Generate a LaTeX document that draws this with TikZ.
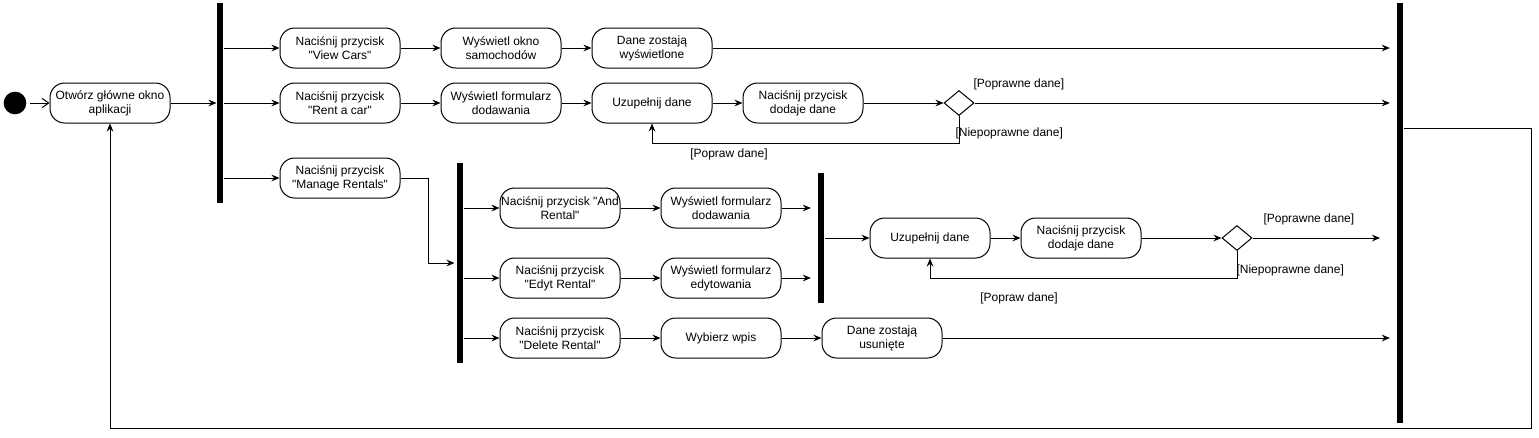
\documentclass[tikz,border=0pt]{standalone}
\usepackage{fontspec}
\setmainfont{Liberation Sans}[Ligatures=TeXOff]
\usetikzlibrary{arrows.meta,positioning,shapes.geometric}

\begin{document}
\begin{tikzpicture}[x=0.75pt,y=-0.75pt,line width=0.75pt,
 font=\fontsize{9}{10.5}\selectfont,
 act/.style={rounded corners=11pt,draw,minimum width=90pt,minimum height=30pt,align=center,inner sep=0pt},
 bar/.style={fill=black,inner sep=0pt,minimum width=4.5pt},
 decision/.style={diamond,draw,inner sep=0pt,minimum width=22.5pt,minimum height=18.75pt},
 flow/.style={-{Stealth[length=6pt,width=5pt,inset=2pt]}},
 gap/.style={flow,shorten >=5pt},
 guard/.style={anchor=west,inner sep=0pt}]
\useasboundingbox (0,0) rectangle (1539,437);
\node[circle,fill=black,minimum size=17pt,inner sep=0pt] (start) at (15,103) {};
\node[act] (open) at (110,103) {Otwórz główne okno\\aplikacji};
\node[bar,minimum height=150pt] (fork) at (220,103) {};
\node[act] (view) at (340,48) {Naciśnij przycisk\\"View Cars"};
\node[act,right=30pt of view] (cars) {Wyświetl okno\\samochodów};
\node[act,right=22.5pt of cars] (shown) {Dane zostają\\wyświetlone};
\node[act] (rent) at (340,103) {Naciśnij przycisk\\"Rent a car"};
\node[act,right=30pt of rent] (addform) {Wyświetl formularz\\dodawania};
\node[act,right=22.5pt of addform] (fill) {Uzupełnij dane};
\node[act,right=22.5pt of fill] (submit) {Naciśnij przycisk\\dodaje dane};
\node[decision,right=60pt of submit] (check) {};
\node[act] (manage) at (340,178) {Naciśnij przycisk\\"Manage Rentals"};
\node[bar,minimum height=150pt] (subfork) at (460,263) {};
\node[act] (addrent) at (560,208) {Naciśnij przycisk "And\\Rental"};
\node[act,right=30pt of addrent] (rentform) {Wyświetl formularz\\dodawania};
\node[act] (edit) at (560,278) {Naciśnij przycisk\\"Edyt Rental"};
\node[act,right=30pt of edit] (editform) {Wyświetl formularz\\edytowania};
\node[act] (delete) at (560,338) {Naciśnij przycisk\\"Delete Rental"};
\node[act,right=30pt of delete] (pick) {Wybierz wpis};
\node[act,right=30pt of pick] (removed) {Dane zostają\\usunięte};
\node[bar,minimum height=97.5pt] (merge) at (821,238) {};
\node[act] (subfill) at (930,238) {Uzupełnij dane};
\node[act,right=22.5pt of subfill] (subsubmit) {Naciśnij przycisk\\dodaje dane};
\node[decision,right=60pt of subsubmit] (subcheck) {};
\node[bar,minimum height=315pt] (join) at (1400,213) {};
\coordinate (subout) at (1380,238);
\coordinate (backtop) at (1531,128);
\coordinate (backbottom) at (1531,428);
\node[guard] (okA) at (973,84) {[Poprawne dane]};
\node[guard] (badA) at (955,133) {[Niepoprawne dane]};
\node[inner sep=0pt] (fixA) at (729,154) {[Popraw dane]};
\node[guard] (okB) at (1263,219) {[Poprawne dane]};
\node[guard] (badB) at (1236,270) {[Niepoprawne dane]};
\node[inner sep=0pt] (fixB) at (1019,298) {[Popraw dane]};
\draw[-{Straight Barb[length=5pt,width=7pt]},shorten <=2pt] (start) -- (open);
\draw[flow] (open) -- (fork.west |- open);
\draw[flow] (fork.east |- view) -- (view);
\draw[flow] (fork.east |- rent) -- (rent);
\draw[flow] (fork.east |- manage) -- (manage);
\draw[flow] (view) -- (cars);
\draw[flow] (cars) -- (shown);
\draw[gap] (shown) -- (join.west |- shown);
\draw[flow] (rent) -- (addform);
\draw[flow] (addform) -- (fill);
\draw[flow] (fill) -- (submit);
\draw[flow] (submit) -- (check);
\draw[gap] (check) -- (join.west |- check);
\draw[flow] (check.south) -- ++(0,27) -| (fill.south);
\draw[flow] (manage.east) -- ++(28,0) |- ([xshift=-1.5pt]subfork.west);
\draw[flow] (subfork.east |- addrent) -- (addrent);
\draw[flow] (subfork.east |- edit) -- (edit);
\draw[flow] (subfork.east |- delete) -- (delete);
\draw[flow] (addrent) -- (rentform);
\draw[gap] (rentform) -- (merge.west |- rentform);
\draw[flow] (edit) -- (editform);
\draw[gap] (editform) -- (merge.west |- editform);
\draw[flow] (merge.east |- subfill) -- (subfill);
\draw[flow] (subfill) -- (subsubmit);
\draw[flow] (subsubmit) -- (subcheck);
\draw[flow] (subcheck) -- (subout);
\draw[flow] (subcheck.south) -- ++(0,27) -| (subfill.south);
\draw[flow] (delete) -- (pick);
\draw[flow] (pick) -- (removed);
\draw[gap] (removed) -- (join.west |- removed);
\draw[flow] (join.east |- backtop) -- (backtop) -- (backbottom) -| (open.south);
\end{tikzpicture}
\end{document}
